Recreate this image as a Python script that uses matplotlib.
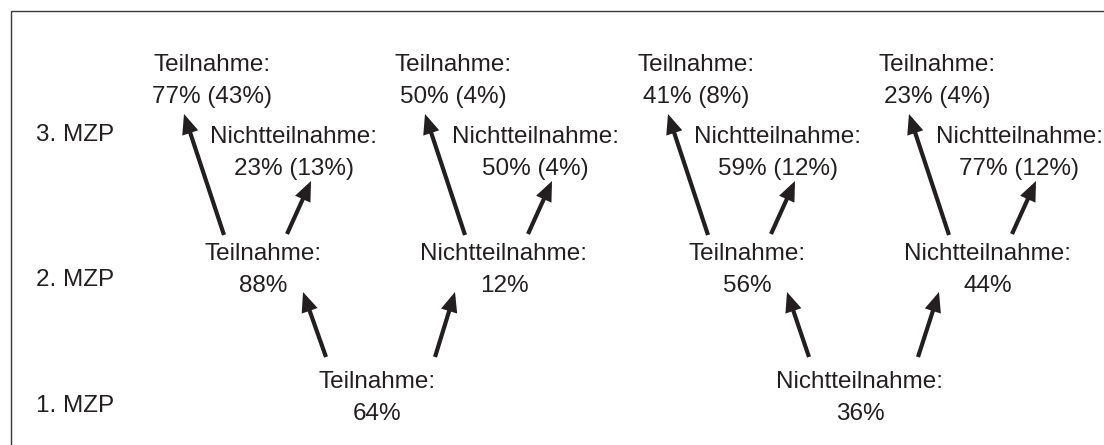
import matplotlib.pyplot as plt
from matplotlib.patches import FancyArrowPatch

plt.rcParams["font.family"] = ["Liberation Sans", "DejaVu Sans"]

# measurement points (left labels)
mzp_labels = ["1. MZP", "2. MZP", "3. MZP"]

# 1. MZP
level1_labels = ["Teilnahme:", "Nichtteilnahme:"]
level1_pct = [64, 36]

# 2. MZP (two children per 1. MZP node)
level2_labels = ["Teilnahme:", "Nichtteilnahme:", "Teilnahme:", "Nichtteilnahme:"]
level2_pct = [88, 12, 56, 44]

# 3. MZP: conditional share and (share of all)
level3_teil_pct = [77, 50, 41, 23]
level3_teil_total = [43, 4, 8, 4]
level3_nicht_pct = [23, 50, 59, 77]
level3_nicht_total = [13, 4, 12, 12]

# layout (pixel coordinates of the 1104x445 canvas)
W, H = 1104, 445
level1_x = [377, 860]
level2_x = [263, 504, 747, 988]
mzp_y = [404, 278, 133]
ink = "#231f20"
fs = 17.5

fig = plt.figure(figsize=(W / 100, H / 100), dpi=100)
ax = fig.add_axes([0, 0, 1, 1])
ax.set_xlim(0, W)
ax.set_ylim(H, 0)
ax.axis("off")

# frame (left and top edge)
ax.plot([11, 11, W], [H, 11, 11], color="#3a3a3a", lw=1.0, solid_joinstyle="miter")


def node(x, y1, line1, line2):
    # y1 = visual centre of first line; baseline sits ~8 px lower
    ax.text(x, y1 + 8, line1, ha="center", va="baseline", fontsize=fs, color=ink)
    ax.text(x, y1 + 40, line2, ha="center", va="baseline", fontsize=fs, color=ink)


def arrow(x0, y0, x1, y1):
    a = FancyArrowPatch((x0, y0), (x1, y1),
                        arrowstyle="-|>,head_length=9,head_width=3.8",
                        mutation_scale=1, lw=3.0, color=ink,
                        shrinkA=0, shrinkB=0, joinstyle="miter", capstyle="butt")
    ax.add_patch(a)


for lab, y in zip(mzp_labels, mzp_y):
    ax.text(36, y + 8, lab, ha="left", va="baseline", fontsize=fs, color=ink)

for i, (lab, p) in enumerate(zip(level1_labels, level1_pct)):
    px = level1_x[i]
    node(px, 380, lab, f"{p}%")
    left, right = level2_x[2 * i], level2_x[2 * i + 1]
    arrow(px - 51, 357, left + 40, 292)
    arrow(px + 58, 357, right - 49, 292)

for i, (lab, p) in enumerate(zip(level2_labels, level2_pct)):
    cx = level2_x[i]
    node(cx, 252, lab, f"{p}%")
    node(cx - 51, 63, "Teilnahme:", f"{level3_teil_pct[i]}% ({level3_teil_total[i]}%)")
    node(cx + 31, 135, "Nichtteilnahme:", f"{level3_nicht_pct[i]}% ({level3_nicht_total[i]}%)")
    arrow(cx - 39, 235, cx - 79, 114)
    arrow(cx + 24, 234, cx + 48, 181)

fig.savefig("out.png", dpi=100, facecolor="white")
